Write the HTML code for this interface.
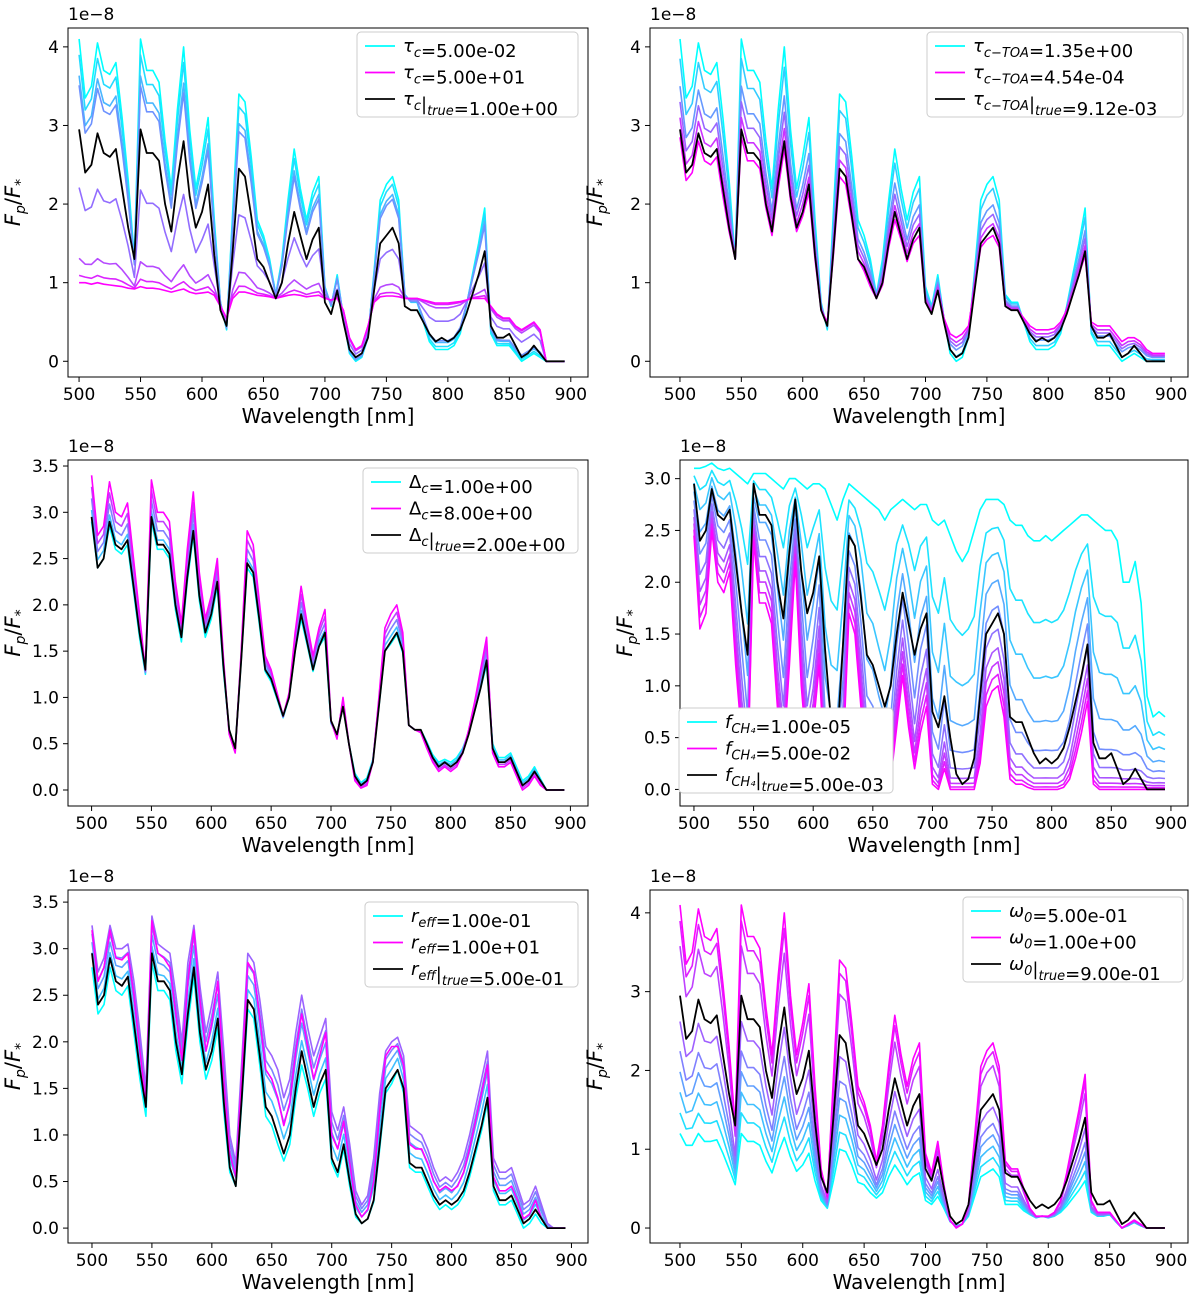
<!DOCTYPE html>
<html><head><meta charset="utf-8"><style>
body{margin:0;background:#fff}
svg{display:block;font-family:"DejaVu Sans","Liberation Sans",sans-serif}
</style></head><body>
<svg id="fig" width="1200" height="1304" viewBox="0 0 1200 1304" xmlns="http://www.w3.org/2000/svg"></svg>
<script>
const wavelengths=[];for(let w=500;w<=895;w+=5)wavelengths.push(w);
const trueSpec=[2.95,2.4,2.5,2.9,2.65,2.6,2.7,2.2,1.7,1.3,2.95,2.65,2.65,2.55,2.0,1.65,2.3,2.8,2.1,1.7,1.9,2.25,1.35,0.65,0.45,1.4,2.45,2.35,1.85,1.3,1.2,1.0,0.8,1.0,1.5,1.9,1.6,1.3,1.55,1.7,0.75,0.6,0.9,0.5,0.15,0.05,0.1,0.3,0.9,1.5,1.6,1.7,1.5,0.7,0.65,0.65,0.5,0.35,0.25,0.3,0.25,0.3,0.4,0.6,0.85,1.1,1.4,0.45,0.3,0.3,0.35,0.2,0.05,0.1,0.2,0.1,0,0,0,0];
const tauHigh=[4.1,3.35,3.5,4.05,3.7,3.65,3.8,3.1,2.3,1.3,4.1,3.7,3.7,3.55,2.8,2.2,3.2,4.0,2.95,2.2,2.6,3.1,1.8,0.75,0.4,1.9,3.4,3.3,2.6,1.8,1.6,1.3,0.85,1.3,2.05,2.7,2.2,1.8,2.15,2.35,0.95,0.7,1.1,0.55,0.1,0.0,0.05,0.3,1.15,2.05,2.25,2.35,2.05,0.85,0.75,0.75,0.5,0.25,0.15,0.15,0.15,0.2,0.35,0.7,1.1,1.5,1.95,0.35,0.2,0.2,0.2,0.1,0,0.05,0.1,0.05,0,0,0,0];
const tauThick=[1.0,1.0,0.98,1.0,0.98,0.97,0.96,0.95,0.93,0.92,0.95,0.93,0.93,0.92,0.9,0.88,0.9,0.92,0.88,0.86,0.87,0.88,0.84,0.7,0.55,0.8,0.88,0.88,0.86,0.84,0.83,0.82,0.8,0.82,0.84,0.85,0.84,0.82,0.83,0.84,0.8,0.78,0.8,0.65,0.3,0.15,0.2,0.45,0.75,0.82,0.83,0.83,0.82,0.8,0.8,0.8,0.78,0.76,0.74,0.74,0.74,0.75,0.76,0.78,0.8,0.8,0.8,0.7,0.6,0.55,0.55,0.45,0.4,0.45,0.5,0.4,0,0,0,0];
const toaLow=[2.85,2.3,2.4,2.8,2.55,2.5,2.6,2.1,1.65,1.3,2.85,2.55,2.55,2.45,1.95,1.6,2.2,2.7,2.05,1.65,1.85,2.15,1.3,0.65,0.5,1.35,2.35,2.25,1.8,1.3,1.15,0.95,0.8,0.97,1.45,1.8,1.55,1.27,1.5,1.6,0.75,0.62,0.9,0.55,0.35,0.3,0.35,0.45,0.95,1.45,1.55,1.6,1.45,0.7,0.65,0.65,0.55,0.45,0.4,0.4,0.4,0.42,0.5,0.65,0.85,1.1,1.35,0.5,0.45,0.45,0.45,0.35,0.25,0.3,0.3,0.25,0.15,0.1,0.1,0.1];
const deltaHigh=[3.4,2.75,2.85,3.33,3.0,2.95,3.1,2.5,1.9,1.3,3.35,3.0,3.0,2.9,2.25,1.8,2.6,3.22,2.35,1.85,2.1,2.5,1.45,0.6,0.4,1.5,2.8,2.65,2.05,1.45,1.3,1.05,0.8,1.05,1.7,2.2,1.8,1.45,1.75,1.95,0.75,0.55,1.0,0.5,0.1,0.02,0.05,0.3,1.0,1.75,1.9,2.0,1.7,0.7,0.65,0.62,0.45,0.3,0.2,0.25,0.2,0.25,0.4,0.65,0.95,1.3,1.65,0.4,0.25,0.25,0.3,0.15,0,0.05,0.15,0.05,0,0,0,0];
const deltaLow=[2.9,2.4,2.5,2.85,2.6,2.55,2.65,2.15,1.65,1.25,2.9,2.6,2.6,2.5,1.95,1.6,2.25,2.75,2.05,1.65,1.85,2.2,1.3,0.65,0.45,1.4,2.4,2.3,1.8,1.28,1.17,0.98,0.78,1.0,1.5,1.85,1.57,1.28,1.55,1.65,0.72,0.6,0.9,0.5,0.18,0.08,0.13,0.33,0.9,1.5,1.58,1.68,1.48,0.7,0.65,0.65,0.52,0.38,0.3,0.33,0.3,0.35,0.45,0.62,0.85,1.1,1.35,0.5,0.35,0.35,0.4,0.25,0.1,0.15,0.25,0.12,0,0,0,0];
const ch4Low=[3.1,3.1,3.12,3.15,3.1,3.08,3.1,3.05,3.0,2.95,3.05,3.05,3.05,3.0,2.95,2.9,3.0,3.0,2.95,2.9,2.95,2.95,2.9,2.75,2.6,2.8,2.95,2.9,2.85,2.8,2.75,2.7,2.6,2.7,2.75,2.8,2.75,2.7,2.75,2.75,2.6,2.55,2.6,2.45,2.3,2.2,2.3,2.5,2.7,2.8,2.8,2.8,2.75,2.6,2.55,2.55,2.45,2.4,2.4,2.45,2.4,2.45,2.5,2.55,2.6,2.65,2.65,2.6,2.55,2.5,2.5,2.4,2.0,2.0,2.2,1.8,0.9,0.7,0.75,0.7];
const ch4High=[2.45,1.55,1.7,2.5,2.0,1.9,2.1,1.2,0.5,0.1,2.4,1.8,1.8,1.6,0.8,0.3,1.2,2.2,1.0,0.3,0.6,1.2,0.1,0,0,0.3,1.7,1.5,0.8,0.2,0.15,0.05,0,0.1,0.6,1.1,0.6,0.2,0.55,0.8,0.05,0,0.2,0,0,0,0,0,0.25,0.8,0.95,1.0,0.7,0.1,0.05,0.05,0.02,0,0,0,0,0,0.02,0.1,0.3,0.55,0.85,0.05,0,0,0,0,0,0,0,0,0,0,0,0];
const reffLow=[2.8,2.3,2.4,2.8,2.55,2.5,2.6,2.1,1.6,1.2,2.85,2.55,2.55,2.45,1.9,1.55,2.2,2.7,2.0,1.6,1.8,2.15,1.25,0.6,0.45,1.35,2.35,2.25,1.75,1.2,1.1,0.9,0.72,0.9,1.4,1.75,1.5,1.2,1.45,1.6,0.7,0.55,0.85,0.45,0.12,0.05,0.1,0.28,0.85,1.45,1.55,1.7,1.45,0.65,0.6,0.6,0.45,0.3,0.2,0.25,0.2,0.25,0.35,0.55,0.8,1.05,1.35,0.4,0.25,0.25,0.3,0.15,0,0.05,0.15,0.05,0,0,0,0];
const reffPeak=[3.25,2.75,2.9,3.25,3.0,3.0,3.05,2.65,2.1,1.5,3.35,3.05,3.0,2.95,2.5,2.0,2.85,3.25,2.6,2.1,2.4,2.75,1.9,1.0,0.7,1.8,2.95,2.85,2.45,1.95,1.85,1.7,1.4,1.6,2.1,2.5,2.15,1.85,2.05,2.25,1.25,1.05,1.3,0.9,0.4,0.25,0.35,0.75,1.45,1.9,2.0,2.05,1.85,1.1,1.05,1.0,0.85,0.65,0.5,0.55,0.5,0.6,0.75,1.0,1.3,1.6,1.9,0.75,0.6,0.6,0.65,0.45,0.25,0.3,0.45,0.25,0.05,0,0,0];
const reffHigh=[3.2,2.65,2.8,3.2,2.9,2.88,2.95,2.5,1.9,1.35,3.3,2.95,2.9,2.8,2.3,1.8,2.65,3.2,2.45,1.9,2.2,2.65,1.6,0.8,0.55,1.65,2.85,2.75,2.25,1.7,1.6,1.4,1.1,1.35,1.9,2.3,1.95,1.6,1.85,2.1,1.0,0.85,1.15,0.7,0.25,0.12,0.2,0.5,1.25,1.85,1.95,1.95,1.75,0.9,0.85,0.85,0.7,0.5,0.4,0.45,0.4,0.45,0.6,0.85,1.15,1.45,1.75,0.55,0.4,0.4,0.45,0.3,0.1,0.15,0.3,0.1,0,0,0,0];
const omegaLow=[1.2,1.05,1.05,1.2,1.1,1.1,1.12,0.95,0.75,0.55,1.2,1.1,1.1,1.05,0.85,0.7,0.95,1.15,0.9,0.72,0.8,0.95,0.6,0.35,0.25,0.6,1.0,0.97,0.8,0.58,0.55,0.45,0.38,0.45,0.65,0.8,0.68,0.55,0.65,0.7,0.35,0.3,0.4,0.25,0.08,0.03,0.05,0.15,0.4,0.65,0.7,0.75,0.65,0.3,0.3,0.3,0.22,0.17,0.13,0.15,0.13,0.15,0.2,0.28,0.38,0.48,0.6,0.2,0.15,0.15,0.17,0.08,0,0.03,0.07,0.03,0,0,0,0];
const mix1=[0,0.065,0.15,0.19,0.61,0.9,0.97,1];
const mix2=[0,0.2,0.48,0.64,0.8,1];
const mix3=[0,0.25,0.5,0.75,1];
const mix4=[0,0.1,0.2,0.32,0.45,0.58,0.7,0.8,0.9,1];
const mix5=[0.35,0.6,0.8,1];
const mix6=[0,0.09,0.18,0.27,0.36,0.49,0.82,0.93,1];
const xTicks=[500,550,600,650,700,750,800,850,900];

const svg=document.getElementById('fig');const NS='http://www.w3.org/2000/svg';
function mk(tag,at,parent){const e=document.createElementNS(NS,tag);for(const k in at)e.setAttribute(k,at[k]);(parent||svg).appendChild(e);return e;}
function cool(f){return `rgb(${Math.round(255*f)},${Math.round(255*(1-f))},255)`;}
function blend(a,b,w){return a.map((v,i)=>v*(1-w)+b[i]*w);}
function gblend(a,b,w){const e=0.05;return a.map((v,i)=>Math.pow(v+e,1-w)*Math.pow(b[i]+e,w)-e);}

function panel(p){
 const g=mk('g',{});
 
 
 const X=w=>p.box[0]+(w-p.xlim[0])/(p.xlim[1]-p.xlim[0])*(p.box[2]-p.box[0]);
 const Y=v=>p.box[3]-(v-p.ylim[0])/(p.ylim[1]-p.ylim[0])*(p.box[3]-p.box[1]);
 const clipId='c'+p.name;
 const cp=mk('clipPath',{id:clipId},g);mk('rect',{x:p.box[0],y:p.box[1],width:p.box[2]-p.box[0],height:p.box[3]-p.box[1]},cp);
 const lines=mk('g',{'clip-path':`url(#${clipId})`},g);
 p.curves.forEach((c,k)=>{
  const arr=(p.geo?gblend:blend)(c[0],c[1],c[2]);
  const d=arr.map((v,i)=>(i?'L':'M')+X(wavelengths[i]).toFixed(1)+','+Y(v).toFixed(1)).join('');
  const el=mk('path',{d:d,fill:'none',stroke:cool(c[3]),'stroke-width':1.6,'stroke-linejoin':'round'},lines);
  
  
 });
 const d=trueSpec.map((v,i)=>(i?'L':'M')+X(wavelengths[i]).toFixed(1)+','+Y(v).toFixed(1)).join('');
 const tl=mk('path',{d:d,fill:'none',stroke:'#000','stroke-width':1.8,'stroke-linejoin':'round'},lines);
 
 
 mk('rect',{x:p.box[0],y:p.box[1],width:p.box[2]-p.box[0],height:p.box[3]-p.box[1],fill:'none',stroke:'#000','stroke-width':1},g);
 xTicks.forEach(t=>{const x=X(t);mk('line',{x1:x,x2:x,y1:p.box[3],y2:p.box[3]+5,stroke:'#000'},g);
  const tx=mk('text',{x:x,y:p.box[3]+23,'font-size':17,'text-anchor':'middle'},g);tx.textContent=t;
  
  });
 p.yticks.forEach(t=>{const y=Y(t);mk('line',{x1:p.box[0]-5,x2:p.box[0],y1:y,y2:y,stroke:'#000'},g);
  const tx=mk('text',{x:p.box[0]-9,y:y+6,'font-size':17,'text-anchor':'end'},g);tx.textContent=t.toFixed(p.ydec);
  
  });
 const off=mk('text',{x:p.box[0],y:p.box[1]-8,'font-size':17},g);off.textContent='1e\u22128';
 
 
 const xl=mk('text',{x:(p.box[0]+p.box[2])/2,y:p.box[3]+46,'font-size':20,'text-anchor':'middle'},g);xl.textContent='Wavelength [nm]';
 
 
 const cy=(p.box[1]+p.box[3])/2, cx=p.box[0]-48;
 const yl=mk('text',{x:cx,y:cy,'font-size':21,'text-anchor':'middle','font-style':'italic',transform:`rotate(-90 ${cx} ${cy})`},g);
 yl.innerHTML='F<tspan font-size="14" dy="5">p</tspan><tspan dy="-5" font-style="normal">/</tspan>F<tspan font-size="14" dy="5">*</tspan>';
 
 
 const L=p.legend;
 const lg=mk('g',{},g);
 
 
 mk('rect',{x:L.x,y:L.y,width:L.w,height:85,rx:4,fill:'#fff',stroke:'#ccc'},lg);
 ['#00ffff','#ff00ff','#000'].forEach((c,i)=>{const yy=L.y+14+i*26.5;
  mk('line',{x1:L.x+8,x2:L.x+38,y1:yy,y2:yy,stroke:c,'stroke-width':1.8},lg);
  const t=mk('text',{x:L.x+46,y:yy+6,'font-size':18},lg);t.innerHTML=L.labels[i];
  
  });
}
const sub=(s)=>`<tspan font-size="13" dy="5" font-style="italic">${s}</tspan><tspan dy="-5"></tspan>`;
const tr=`|<tspan font-size="13" dy="5" font-style="italic">true</tspan><tspan dy="-5"></tspan>`;

panel({name:'panel-tau-c',box:[68,28,588,377],xlim:[491,914],ylim:[-0.2,4.24],yticks:[0,1,2,3,4],ydec:0,
 curves:[...mix1.map((w,k)=>[tauHigh,tauThick,w,k/(mix1.length-1)])],
 legend:{x:357,y:32,w:221,labels:[`<tspan font-style="italic">τ</tspan>${sub('c')}=5.00e-02`,`<tspan font-style="italic">τ</tspan>${sub('c')}=5.00e+01`,`<tspan font-style="italic">τ</tspan>${sub('c')}${tr}=1.00e+00`]}});
panel({name:'panel-tau-toa',box:[650,28,1188,377],xlim:[475.6,913.8],ylim:[-0.2,4.24],yticks:[0,1,2,3,4],ydec:0,
 curves:mix2.map((w,k)=>[tauHigh,toaLow,w,k/(mix2.length-1)]),
 legend:{x:927,y:32,w:256,labels:[`<tspan font-style="italic">τ</tspan>${sub('c−TOA')}=1.35e+00`,`<tspan font-style="italic">τ</tspan>${sub('c−TOA')}=4.54e-04`,`<tspan font-style="italic">τ</tspan>${sub('c−TOA')}${tr}=9.12e-03`]}});
panel({name:'panel-delta-c',box:[68,460,588,806],xlim:[480.3,914.7],ylim:[-0.173,3.565],yticks:[0,0.5,1,1.5,2,2.5,3,3.5],ydec:1,
 curves:mix3.map((w,k)=>[deltaLow,deltaHigh,w,k/(mix3.length-1)]),
 legend:{x:363,y:468,w:215,labels:[`Δ${sub('c')}=1.00e+00`,`Δ${sub('c')}=8.00e+00`,`Δ${sub('c')}${tr}=2.00e+00`]}});
panel({name:'panel-f-ch4',box:[680,460,1188,806],xlim:[488.3,914.3],ylim:[-0.16,3.18],yticks:[0,0.5,1,1.5,2,2.5,3],ydec:1,geo:true,
 curves:mix4.map((w,k)=>[ch4Low,ch4High,w,k/(mix4.length-1)]),
 legend:{x:679,y:708,w:214,labels:[`<tspan font-style="italic">f</tspan>${sub('CH₄')}=1.00e-05`,`<tspan font-style="italic">f</tspan>${sub('CH₄')}=5.00e-02`,`<tspan font-style="italic">f</tspan>${sub('CH₄')}${tr}=5.00e-03`]}});
panel({name:'panel-r-eff',box:[68,890,588,1243],xlim:[480,913.8],ylim:[-0.16,3.63],yticks:[0,0.5,1,1.5,2,2.5,3,3.5],ydec:1,
 curves:[[reffLow,reffLow,0,0],...mix5.map((w,k)=>[reffLow,reffPeak,w,0.25+k*0.12]),[reffHigh,reffHigh,0,1]],
 legend:{x:365,y:902,w:213,labels:[`<tspan font-style="italic">r</tspan>${sub('eff')}=1.00e-01`,`<tspan font-style="italic">r</tspan>${sub('eff')}=1.00e+01`,`<tspan font-style="italic">r</tspan>${sub('eff')}${tr}=5.00e-01`]}});
panel({name:'panel-omega',box:[650,890,1188,1243],xlim:[475.6,913.8],ylim:[-0.19,4.29],yticks:[0,1,2,3,4],ydec:0,
 curves:mix6.map((w,k)=>[omegaLow,tauHigh,w,k/(mix6.length-1)]),
 legend:{x:963,y:897,w:220,labels:[`<tspan font-style="italic">ω</tspan>${sub('0')}=5.00e-01`,`<tspan font-style="italic">ω</tspan>${sub('0')}=1.00e+00`,`<tspan font-style="italic">ω</tspan>${sub('0')}${tr}=9.00e-01`]}});
</script>
</body></html>
